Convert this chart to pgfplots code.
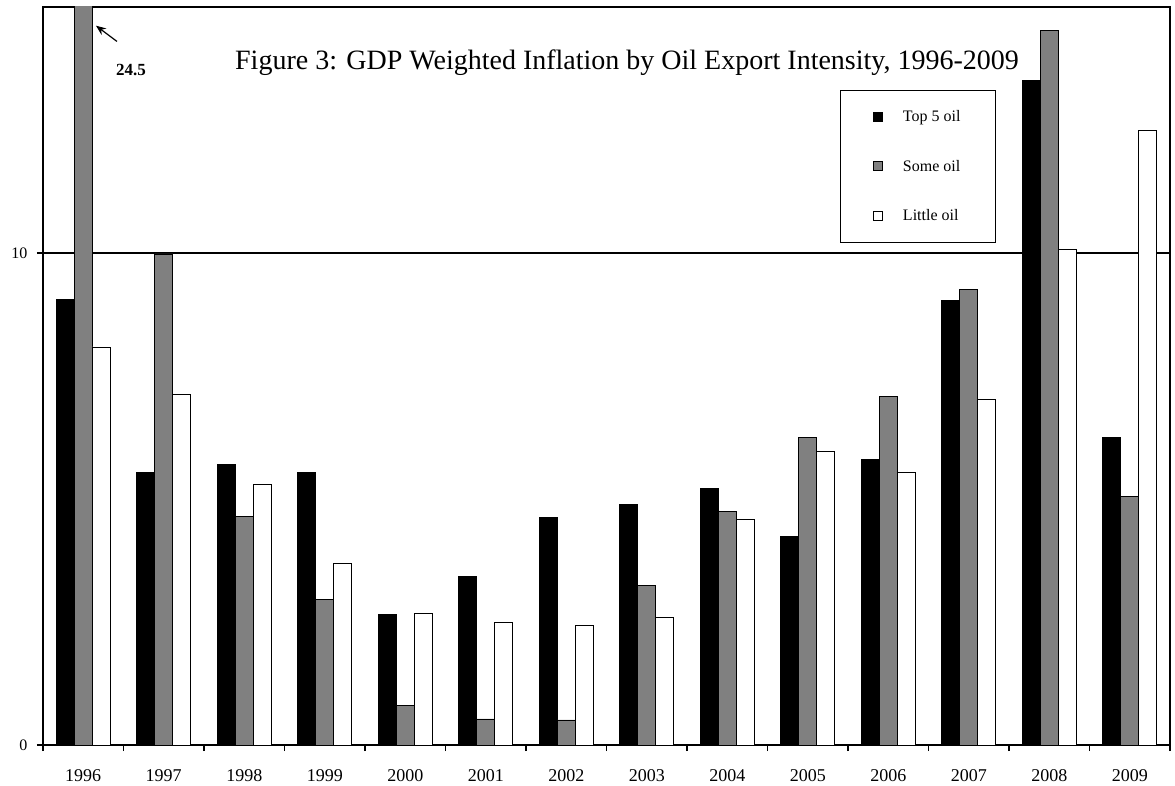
\documentclass[border=0pt]{standalone}
\usepackage{fontspec}
\setmainfont{Liberation Serif}
\usepackage{pgfplots}
\usetikzlibrary{arrows.meta}
\pgfplotsset{compat=1.18}
\begin{document}
\begin{tikzpicture}
\useasboundingbox (-43pt,-40pt) rectangle (1132pt,745pt);
\begin{axis}[
 at={(0pt,0pt)}, anchor=south west,
 scale only axis, width=1127pt, height=738pt,
 ybar=0pt, bar width=18pt,
 xmin=-0.5, xmax=13.5, ymin=0, ymax=15,
 clip mode=individual,
 xtick={-0.5,0.5,...,13.5},
 x tick label as interval,
 xticklabels={1996,1997,1998,1999,2000,2001,2002,2003,2004,2005,2006,2007,2008,2009},
 major tick length=6pt,
 tick align=outside,
 tick pos=left,
 ytick={0,10},
 ymajorgrids, xmajorgrids=false, grid style={black, line width=1.6pt},
 axis line style={line width=1.2pt},
 tick style={black, line width=1.1pt},
 /pgf/number format/assume math mode=true,
 xticklabel style={font=\fontsize{18}{20}\selectfont, yshift=-15pt},
 yticklabel style={font=\fontsize{16}{18}\selectfont, xshift=-6pt},
 legend cell align=left,
 legend image code/.code={\draw[#1, line width=0.8pt] (0pt,-4.5pt) rectangle (9pt,4.5pt);},
 legend style={at={(rel axis cs:0.707,0.8875)}, anchor=north west, draw=black, line width=0.8pt, fill=white,
   font=\fontsize{16}{17}\selectfont, row sep=33pt, inner xsep=33pt, inner ysep=18pt,
   /tikz/every odd column/.append style={column sep=18pt}},
]
\addplot[fill=black, draw=black, line width=0.8pt] coordinates {
(0,9.06) (1,5.54) (2,5.70) (3,5.54) (4,2.65) (5,3.42) (6,4.62) (7,4.89) (8,5.21) (9,4.24) (10,5.80) (11,9.04) (12,13.50) (13,6.25)};
\addplot[fill={rgb,255:red,128;green,128;blue,128}, draw=black, line width=0.8pt] coordinates {
(0,24.5) (1,9.98) (2,4.64) (3,2.95) (4,0.81) (5,0.53) (6,0.51) (7,3.24) (8,4.75) (9,6.25) (10,7.09) (11,9.25) (12,14.52) (13,5.05)};
\addplot[fill=white, draw=black, line width=0.8pt] coordinates {
(0,8.09) (1,7.13) (2,5.30) (3,3.69) (4,2.67) (5,2.50) (6,2.44) (7,2.59) (8,4.58) (9,5.97) (10,5.54) (11,7.03) (12,10.08) (13,12.50)};
\legend{Top 5 oil, Some oil, Little oil}
\node[font=\bfseries\fontsize{17}{19}\selectfont] at (axis cs:0.593,13.72) {24.5};
\draw[-{Stealth[length=10pt,width=8pt]}, line width=1.2pt] (axis cs:0.419,14.3) -- (axis cs:0.158,14.62);
\node[font=\fontsize{28}{32}\selectfont] at (axis cs:6.755,13.87) {Figure 3: GDP Weighted Inflation by Oil Export Intensity, 1996-2009};
\end{axis}
\end{tikzpicture}
\end{document}
